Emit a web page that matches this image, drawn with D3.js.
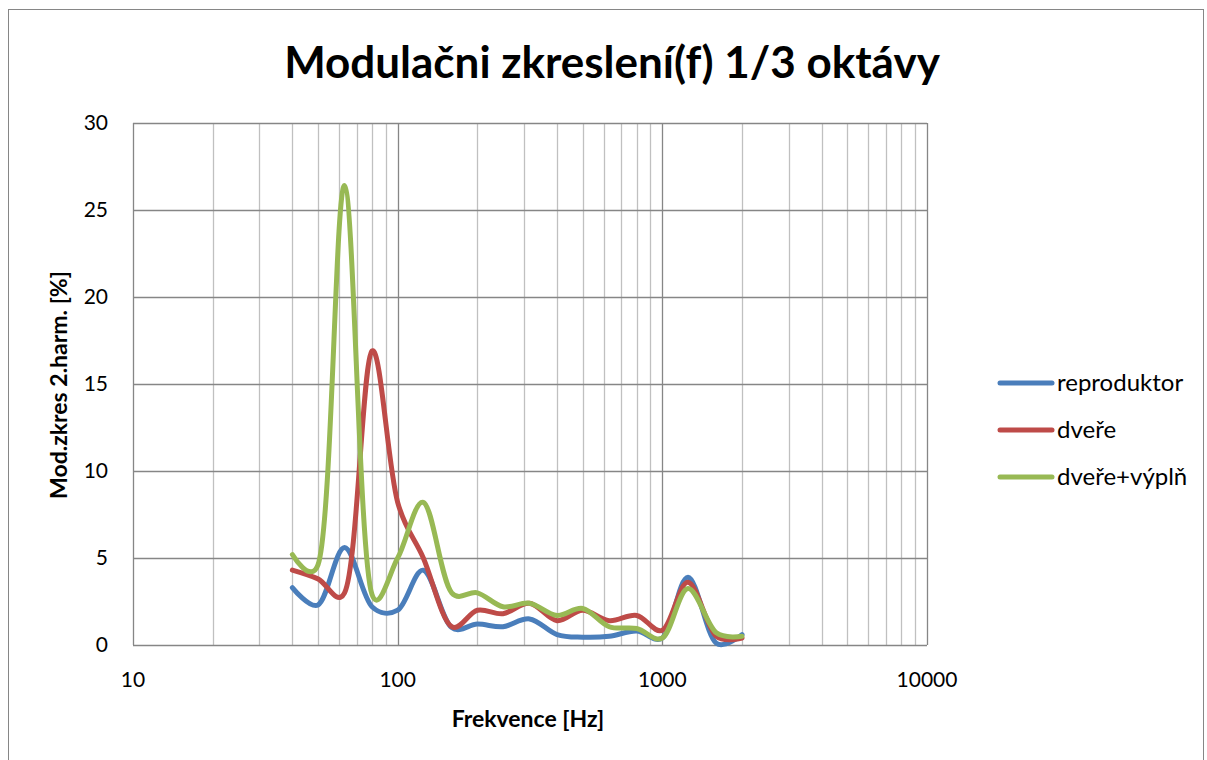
<!DOCTYPE html>
<html>
<head>
<meta charset="utf-8">
<title>Modulačni zkreslení</title>
<style>
  body { margin: 0; background: #fff; }
  text { font-family: Lato, "Open Sans", sans-serif; fill: #000; }
</style>
</head>
<body>
<div id="chart"></div>
<script src="https://cdn.jsdelivr.net/npm/d3@7"></script>
<script>

    // 1/3 octave centre frequencies [Hz]
    var freqs = [40, 50, 63, 80, 100, 125, 160, 200, 250, 315, 400, 500, 630, 800, 1000, 1250, 1600, 2000];

    var reproduktor = [3.3, 2.3, 5.6, 2.2, 2.0, 4.3, 1.0, 1.2, 1.05, 1.5, 0.6, 0.45, 0.5, 0.8, 0.4, 3.9, 0.1, 0.6];
    var dvere       = [4.3, 3.8, 3.0, 16.9, 8.2, 5.0, 1.05, 2.0, 1.8, 2.4, 1.4, 2.0, 1.4, 1.7, 0.85, 3.6, 0.5, 0.4];
    var dvereVypln  = [5.2, 4.6, 26.4, 2.9, 5.0, 8.2, 3.0, 3.0, 2.2, 2.4, 1.7, 2.1, 1.05, 0.95, 0.4, 3.25, 0.7, 0.5];

    var seriesNames = ["reproduktor", "dveře", "dveře+výplň"];
    var seriesColors = ["#4A7EBB", "#BE4B48", "#98B954"];
    var yTicks = [0, 5, 10, 15, 20, 25, 30];
    var xTicks = [10, 100, 1000, 10000];

    var W = 1207, H = 760;
    var svg = d3.select("#chart").append("svg")
        .attr("width", W)
        .attr("height", H);

    // outer chart border
    svg.append("rect")
        .attr("x", 8.5).attr("y", 9.5)
        .attr("width", 1195).attr("height", 770)
        .attr("fill", "none")
        .attr("stroke", "#868686");

    var pLeft = 133, pRight = 927, pTop = 123, pBottom = 645;

    var x = d3.scaleLog().domain([10, 10000]).range([pLeft, pRight]);
    var y = d3.scaleLinear().domain([0, 30]).range([pBottom, pTop]);

    // minor vertical gridlines
    var minor = [];
    [10, 100, 1000].forEach(function(d) {
        for (var k = 2; k <= 9; k++) minor.push(d * k);
    });
    svg.append("g").selectAll("line")
        .data(minor)
        .enter().append("line")
        .attr("x1", function(d) { return Math.round(x(d)) + 0.5; })
        .attr("x2", function(d) { return Math.round(x(d)) + 0.5; })
        .attr("y1", pTop).attr("y2", pBottom)
        .attr("stroke", "#c0c0c0")
        .attr("stroke-width", 1.3);

    // major gridlines
    svg.append("g").selectAll("line")
        .data(xTicks)
        .enter().append("line")
        .attr("x1", function(d) { return Math.round(x(d)) + 0.5; })
        .attr("x2", function(d) { return Math.round(x(d)) + 0.5; })
        .attr("y1", pTop).attr("y2", pBottom)
        .attr("stroke", "#868686")
        .attr("stroke-width", 1.3);

    svg.append("g").selectAll("line")
        .data(yTicks)
        .enter().append("line")
        .attr("x1", pLeft).attr("x2", pRight)
        .attr("y1", function(d) { return Math.round(y(d)) + 0.5; })
        .attr("y2", function(d) { return Math.round(y(d)) + 0.5; })
        .attr("stroke", "#868686")
        .attr("stroke-width", 1.3);

    // tick labels
    svg.append("g").selectAll("text")
        .data(yTicks)
        .enter().append("text")
        .attr("x", 108)
        .attr("y", function(d) { return y(d) + 7; })
        .attr("text-anchor", "end")
        .style("font-size", "21px")
        .text(function(d) { return d; });

    svg.append("g").selectAll("text")
        .data(xTicks)
        .enter().append("text")
        .attr("x", function(d) { return x(d); })
        .attr("y", 687)
        .attr("text-anchor", "middle")
        .style("font-size", "21px")
        .text(function(d) { return d; });

    // series (smoothed like the spreadsheet original)
    var line = d3.line()
        .x(function(d) { return x(d[0]); })
        .y(function(d) { return y(d[1]); })
        .curve(d3.curveCatmullRom.alpha(0.25));

    var allSeries = [reproduktor, dvere, dvereVypln];
    svg.append("g").selectAll("path")
        .data(allSeries)
        .enter().append("path")
        .attr("d", function(s) { return line(freqs.map(function(f, i) { return [f, s[i]]; })); })
        .attr("fill", "none")
        .attr("stroke", function(s, i) { return seriesColors[i]; })
        .attr("stroke-width", 5)
        .attr("stroke-linejoin", "round")
        .attr("stroke-linecap", "round");

    // titles
    svg.append("text")
        .attr("x", 612).attr("y", 78)
        .attr("text-anchor", "middle")
        .style("font-size", "44px")
        .style("font-weight", "bold")
        .text("Modulačni zkreslení(f) 1/3 oktávy");

    svg.append("text")
        .attr("x", 528).attr("y", 727)
        .attr("text-anchor", "middle")
        .style("font-size", "23px")
        .style("font-weight", "bold")
        .text("Frekvence [Hz]");

    svg.append("text")
        .attr("transform", "translate(67,385) rotate(-90)")
        .attr("text-anchor", "middle")
        .style("font-size", "23px")
        .style("font-weight", "bold")
        .text("Mod.zkres 2.harm. [%]");

    // legend
    var legend = svg.append("g").selectAll("g")
        .data(seriesNames)
        .enter().append("g")
        .attr("transform", function(d, i) { return "translate(1000," + (383 + i * 47) + ")"; });

    legend.append("line")
        .attr("x1", 0).attr("x2", 52)
        .attr("y1", 0).attr("y2", 0)
        .attr("stroke", function(d, i) { return seriesColors[i]; })
        .attr("stroke-width", 5)
        .attr("stroke-linecap", "round");

    legend.append("text")
        .attr("x", 57).attr("y", 8)
        .style("font-size", "24px")
        .text(function(d) { return d; });

</script>
</body>
</html>
